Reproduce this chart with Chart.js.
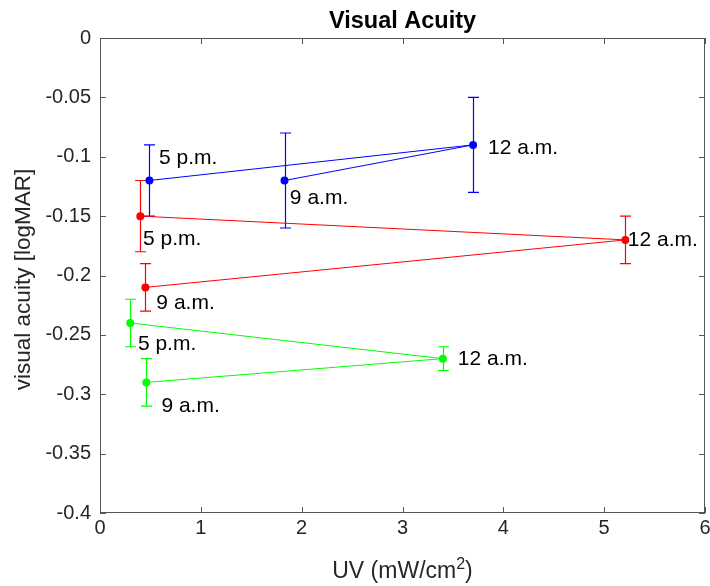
<!DOCTYPE html>
<html>
<head>
<meta charset="utf-8">
<script src="https://cdn.jsdelivr.net/npm/chart.js@4.4.0/dist/chart.umd.min.js"></script>
<style>
  html, body { margin: 0; padding: 0; background: #fff; }
  #grafico { display: block; }
</style>
</head>
<body>
<canvas id="grafico" width="710" height="586"></canvas>
<script>
// =======================
// Data: points joined in the order of the day
// =======================
const times = ['9 a.m.', '12 a.m.', '5 p.m.'];

const uvBlue = [1.83, 3.70, 0.49];
const acuityBlue = [-0.12, -0.09, -0.12];
const errBlue = [0.04, 0.04, 0.03];

const uvRed = [0.45, 5.21, 0.40];
const acuityRed = [-0.21, -0.17, -0.15];
const errRed = [0.02, 0.02, 0.03];

const uvGreen = [0.46, 3.40, 0.30];
const acuityGreen = [-0.29, -0.27, -0.24];
const errGreen = [0.02, 0.01, 0.02];

const xTicks = [0, 1, 2, 3, 4, 5, 6];
const yTicks = [0, -0.05, -0.1, -0.15, -0.2, -0.25, -0.3, -0.35, -0.4];

// text offsets for the time labels, in axis units [dx, dy]
const offsetsBlue = [[0.053, -0.020], [0.149, -0.008], [0.096, 0.014]];
const offsetsRed = [[0.109, -0.018], [0.025, -0.005], [0.026, -0.024]];
const offsetsGreen = [[0.149, -0.025], [0.149, -0.005], [0.076, -0.023]];

const FONT = "'Liberation Sans', Arial, Helvetica, sans-serif";
const AXIS_COLOR = '#262626';
const BOX_COLOR = '#555555';

function serie(color, xs, ys, errs, offsets) {
  return {
    data: xs.map((x, i) => ({ x: x, y: ys[i] })),
    errors: errs,
    offsets: offsets,
    barColor: color,
    showLine: true,
    borderColor: color,
    backgroundColor: color,
    borderWidth: 1,
    pointRadius: 4,
    pointHoverRadius: 4,
    pointBorderWidth: 0,
    pointBackgroundColor: color,
    tension: 0
  };
}

// =======================
// Error bars, box, inner ticks, titles and labels
// =======================
const decorado = {
  id: 'decorado',
  beforeDatasetsDraw(chart) {
    const ctx = chart.ctx;
    const sx = chart.scales.x, sy = chart.scales.y;
    chart.data.datasets.forEach(ds => {
      ds.data.forEach((p, i) => {
        const px = Math.round(sx.getPixelForValue(p.x)) + 0.5;
        const top = sy.getPixelForValue(p.y + ds.errors[i]);
        const bot = sy.getPixelForValue(p.y - ds.errors[i]);
        ctx.save();
        ctx.strokeStyle = ds.barColor;
        ctx.lineWidth = 1.2;
        ctx.beginPath();
        ctx.moveTo(px, top); ctx.lineTo(px, bot);
        ctx.moveTo(px - 5.5, top); ctx.lineTo(px + 5.5, top);
        ctx.moveTo(px - 5.5, bot); ctx.lineTo(px + 5.5, bot);
        ctx.stroke();
        ctx.restore();
      });
    });
  },
  afterDatasetsDraw(chart) {
    const ctx = chart.ctx;
    const a = chart.chartArea;
    const sx = chart.scales.x, sy = chart.scales.y;
    ctx.save();

    // box and ticks pointing inwards
    ctx.strokeStyle = BOX_COLOR;
    ctx.lineWidth = 1;
    ctx.strokeRect(a.left + 0.5, a.top + 0.5, a.right - a.left - 1, a.bottom - a.top - 1);
    ctx.beginPath();
    xTicks.forEach(v => {
      const px = Math.round(sx.getPixelForValue(v)) + 0.5;
      ctx.moveTo(px, a.bottom); ctx.lineTo(px, a.bottom - 6);
      ctx.moveTo(px, a.top); ctx.lineTo(px, a.top + 6);
    });
    yTicks.forEach(v => {
      const py = Math.round(sy.getPixelForValue(v)) + 0.5;
      ctx.moveTo(a.left, py); ctx.lineTo(a.left + 6, py);
      ctx.moveTo(a.right, py); ctx.lineTo(a.right - 6, py);
    });
    ctx.stroke();

    // time labels next to each point
    ctx.fillStyle = '#000';
    ctx.font = '21px ' + FONT;
    ctx.textAlign = 'left';
    ctx.textBaseline = 'alphabetic';
    chart.data.datasets.forEach(ds => {
      ds.data.forEach((p, i) => {
        const o = ds.offsets[i];
        ctx.fillText(times[i], sx.getPixelForValue(p.x + o[0]), sy.getPixelForValue(p.y + o[1]));
      });
    });

    // title
    const cx = (a.left + a.right) / 2;
    ctx.fillStyle = '#000';
    ctx.font = 'bold 23.5px ' + FONT;
    ctx.textAlign = 'center';
    ctx.fillText('Visual Acuity', cx, 27.5);

    // x axis title with superscript
    ctx.fillStyle = AXIS_COLOR;
    const base = 'UV (mW/cm';
    ctx.font = '23px ' + FONT;
    const w1 = ctx.measureText(base).width;
    const w3 = ctx.measureText(')').width;
    ctx.font = '16px ' + FONT;
    const w2 = ctx.measureText('2').width;
    let x0 = cx - (w1 + w2 + w3) / 2;
    ctx.textAlign = 'left';
    ctx.font = '23px ' + FONT;
    ctx.fillText(base, x0, 578);
    ctx.font = '16px ' + FONT;
    ctx.fillText('2', x0 + w1, 569);
    ctx.font = '23px ' + FONT;
    ctx.fillText(')', x0 + w1 + w2, 578);

    // y axis title
    ctx.translate(29.5, (a.top + a.bottom) / 2 + 4);
    ctx.rotate(-Math.PI / 2);
    ctx.textAlign = 'center';
    ctx.font = '22.5px ' + FONT;
    ctx.fillText('visual acuity [logMAR]', 0, 0);
    ctx.restore();
  }
};

const ctx = document.getElementById('grafico').getContext('2d');
const grafico = new Chart(ctx, {
  type: 'scatter',
  data: {
    datasets: [
      serie('#0000ff', uvBlue, acuityBlue, errBlue, offsetsBlue),
      serie('#ff0000', uvRed, acuityRed, errRed, offsetsRed),
      serie('#00ff00', uvGreen, acuityGreen, errGreen, offsetsGreen)
    ]
  },
  options: {
    responsive: false,
    animation: false,
    devicePixelRatio: 1,
    layout: { padding: { top: 38, right: 5, left: 0, bottom: 0 } },
    plugins: {
      legend: { display: false },
      title: { display: false },
      tooltip: { enabled: false }
    },
    scales: {
      x: {
        type: 'linear',
        min: 0, max: 6,
        afterBuildTicks: s => { s.ticks = xTicks.map(v => ({ value: v })); },
        afterFit: s => { s.height = 73; s.paddingLeft = 0; s.paddingRight = 0; },
        grid: { display: false, drawTicks: false },
        border: { display: false },
        ticks: {
          padding: 3,
          color: AXIS_COLOR,
          font: { family: FONT, size: 20 },
          maxRotation: 0,
          callback: v => String(v)
        }
      },
      y: {
        type: 'linear',
        min: -0.4, max: 0,
        afterBuildTicks: s => { s.ticks = yTicks.map(v => ({ value: v })); },
        afterFit: s => { s.width = 100; s.paddingTop = 0; s.paddingBottom = 0; },
        grid: { display: false, drawTicks: false },
        border: { display: false },
        ticks: {
          padding: 9,
          color: AXIS_COLOR,
          font: { family: FONT, size: 20 },
          callback: v => String(Math.round(v * 100) / 100)
        }
      }
    }
  },
  plugins: [decorado]
});
</script>
</body>
</html>
